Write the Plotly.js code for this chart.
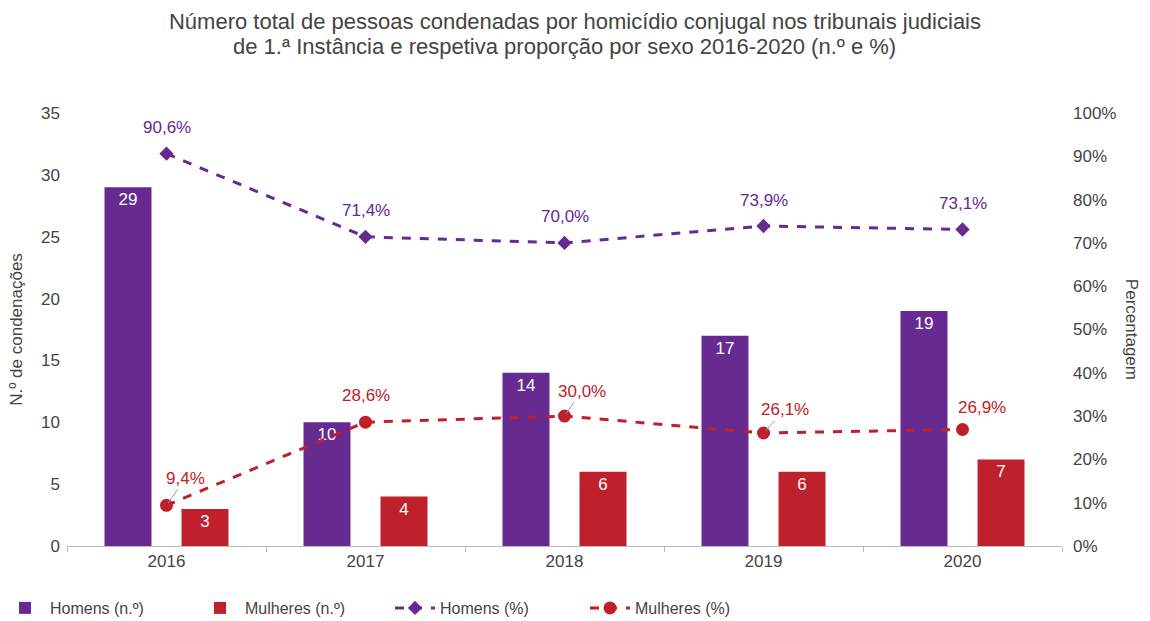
<!DOCTYPE html>
<html>
<head>
<meta charset="utf-8">
<script src="https://cdn.plot.ly/plotly-3.0.1.min.js"></script>
<style>html,body{margin:0;padding:0;background:#fff;}#chart{width:1150px;height:621px;}</style>
</head>
<body>
<div id="chart"></div>
<script>
// ---- data ----
const years = ['2016', '2017', '2018', '2019', '2020'];
const homensN = [29, 10, 14, 17, 19];
const mulheresN = [3, 4, 6, 6, 7];
const homensPct = [90.6, 71.4, 70.0, 73.9, 73.1];
const mulheresPct = [9.4, 28.6, 30.0, 26.1, 26.9];
const homensPctLabels = ['90,6%', '71,4%', '70,0%', '73,9%', '73,1%'];
const mulheresPctLabels = ['9,4%', '28,6%', '30,0%', '26,1%', '26,9%'];
const titleLines = ['Número total de pessoas condenadas por homicídio conjugal nos tribunais judiciais',
                    'de 1.ª Instância e respetiva proporção por sexo 2016-2020 (n.º e %)'];

const purple = '#662a90';
const red = '#c0202b';
const fontFam = '"Liberation Sans", Arial, sans-serif';
const fs = 17;

const traces = [
  {type: 'bar', name: 'Homens (n.º)', x: years, y: homensN, marker: {color: purple},
   text: homensN.map(String), textposition: 'inside', insidetextanchor: 'end',
   textfont: {color: '#fff', size: fs, family: fontFam}},
  {type: 'bar', name: 'Mulheres (n.º)', x: years, y: mulheresN, marker: {color: red},
   text: mulheresN.map(String), textposition: 'inside', insidetextanchor: 'end',
   textfont: {color: '#fff', size: fs, family: fontFam}},
  {type: 'scatter', mode: 'lines+markers', name: 'Homens (%)', x: years, y: homensPct, yaxis: 'y2',
   line: {color: purple, width: 3, dash: 'dash'}, marker: {symbol: 'diamond', size: 11, color: purple}, cliponaxis: false},
  {type: 'scatter', mode: 'lines+markers', name: 'Mulheres (%)', x: years, y: mulheresPct, yaxis: 'y2',
   line: {color: red, width: 3, dash: 'dash'}, marker: {symbol: 'circle', size: 13, color: red}, cliponaxis: false}
];

const annotations = [];
years.forEach((yr, i) => {
  annotations.push({x: i, y: homensPct[i], xref: 'x', yref: 'y2', text: homensPctLabels[i],
    showarrow: false, yshift: 26, font: {color: purple, size: fs, family: fontFam}});
});
const mOff = [[19, -27, true], [0, -27, false], [17, -25, true], [21, -23, true], [19, -22, false]];
years.forEach((yr, i) => {
  const o = mOff[i];
  if (o[2]) {
    annotations.push({x: i, y: mulheresPct[i], xref: 'x', yref: 'y2', text: mulheresPctLabels[i],
      showarrow: true, ax: o[0], ay: o[1], arrowhead: 0, arrowwidth: 1, arrowcolor: '#999', standoff: 3,
      font: {color: red, size: fs, family: fontFam}});
  } else {
    annotations.push({x: i, y: mulheresPct[i], xref: 'x', yref: 'y2', text: mulheresPctLabels[i],
      showarrow: false, xshift: o[0], yshift: -o[1], font: {color: red, size: fs, family: fontFam}});
  }
});
annotations.push({text: 'Percentagem', xref: 'paper', yref: 'paper', x: 1.07, y: 0.5, xanchor: 'center', yanchor: 'middle',
  textangle: 90, showarrow: false, font: {size: fs, color: '#444', family: fontFam}});
annotations.push({text: titleLines[1], xref: 'paper', yref: 'paper', x: 0.5, xanchor: 'center',
  y: (546 - 46) / 433, yanchor: 'middle', showarrow: false, font: {size: 22, color: '#444', family: fontFam}});

const layout = {
  width: 1150, height: 621,
  paper_bgcolor: '#fff', plot_bgcolor: '#fff',
  margin: {l: 67, r: 88, t: 113, b: 75, autoexpand: false},
  font: {family: fontFam, color: '#444'},
  title: {text: titleLines[0], x: 0.5, xanchor: 'center', y: 1 - 21 / 621, yanchor: 'middle', automargin: false,
    font: {size: 22, color: '#444', family: fontFam}},
  barmode: 'group', bargap: 0.226, bargroupgap: 0.39,
  xaxis: {type: 'category', range: [-0.5, 4.5], autorange: false, automargin: false, showline: true, linecolor: '#bbb', linewidth: 1,
    ticks: 'outside', tickson: 'boundaries', ticklen: 5, tickcolor: '#bbb', tickfont: {size: fs, color: '#444'},
    showgrid: false, zeroline: false},
  yaxis: {range: [0, 35], dtick: 5, showgrid: false, zeroline: false, showline: false, automargin: false,
    tickfont: {size: fs, color: '#444'}, ticklabelstandoff: 6,
    title: {text: 'N.º de condenações', font: {size: fs, color: '#444'}, standoff: 14}},
  yaxis2: {overlaying: 'y', side: 'right', range: [0, 100], dtick: 10, ticksuffix: '%', showgrid: false, zeroline: false,
    automargin: false, tickfont: {size: fs, color: '#444'}, ticklabelstandoff: 10},
  legend: {orientation: 'h', x: 0, xanchor: 'left', xref: 'container', y: 13 / 621, yanchor: 'middle', yref: 'container',
    font: {size: 16, color: '#444'}, traceorder: 'normal', itemwidth: 40, entrywidth: 140},
  annotations: annotations,
  showlegend: true
};

Plotly.newPlot('chart', traces, layout, {displayModeBar: false, staticPlot: true});
</script>
</body>
</html>
